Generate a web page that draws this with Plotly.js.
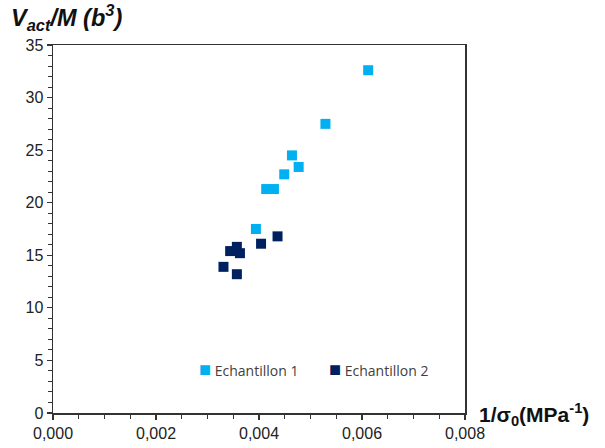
<!DOCTYPE html>
<html>
<head>
<meta charset="utf-8">
<script src="https://cdn.plot.ly/plotly-3.0.1.min.js"></script>
<style>html,body{margin:0;padding:0;background:#fff;}</style>
</head>
<body>
<div id="chart" style="width:605px;height:448px;"></div>
<script>
const seriesNames = ["Echantillon 1", "Echantillon 2"];
const seriesColors = ["#00B0F0", "#002060"];
const x1 = [0.00612, 0.00529, 0.00464, 0.00477, 0.00449, 0.00414, 0.00429, 0.00394];
const y1 = [32.6, 27.5, 24.5, 23.4, 22.7, 21.3, 21.3, 17.5];
const x2 = [0.00436, 0.00404, 0.00357, 0.00344, 0.00363, 0.00331, 0.00357];
const y2 = [16.8, 16.1, 15.8, 15.4, 15.2, 13.9, 13.2];
const xTicks = [0, 0.002, 0.004, 0.006, 0.008];
const yTicks = [0, 5, 10, 15, 20, 25, 30, 35];

const traces = [
  {x: x1, y: y1, name: seriesNames[0], type: 'scatter', mode: 'markers', showlegend: false,
   marker: {symbol: 'square', size: 10, color: seriesColors[0]}},
  {x: x2, y: y2, name: seriesNames[1], type: 'scatter', mode: 'markers', showlegend: false,
   marker: {symbol: 'square', size: 10, color: seriesColors[1]}}
];

const axisCommon = {
  showgrid: false, zeroline: false, showline: true, linecolor: '#333', linewidth: 1.5,
  mirror: true, ticks: 'outside', ticklen: 5, tickwidth: 1.2, tickcolor: '#333',
  tickfont: {family: 'Liberation Sans, Arial, sans-serif', size: 16, color: '#222'}
};

const legendFont = {family: 'Open Sans, sans-serif', size: 14, color: '#404040'};
const legendX = [0.349, 0.665];

const annotations = [
  {xref: 'paper', yref: 'paper', x: -0.106, y: 1.025, xanchor: 'left', yanchor: 'bottom',
   showarrow: false, text: '<b><i>V<sub>act</sub>/M (b<sup>3</sup>)</i></b>',
   font: {family: 'Liberation Sans, Arial, sans-serif', size: 23.5, color: '#111'}},
  {xref: 'paper', yref: 'paper', x: 1.03, y: -0.005, xanchor: 'left', yanchor: 'middle',
   showarrow: false, text: '<b>1/σ<sub>0</sub>(MPa<sup>-1</sup>)</b>',
   font: {family: 'Liberation Sans, Arial, sans-serif', size: 21, color: '#111'}}
];
seriesNames.forEach((n, i) => {
  annotations.push({xref: 'paper', yref: 'paper', x: legendX[i], y: 0.12,
    xanchor: 'left', yanchor: 'middle', showarrow: false,
    text: '<span style="color:' + seriesColors[i] + ';font-size:20px">■</span> ' + n,
    font: legendFont});
});

const layout = {
  width: 605, height: 448,
  margin: {l: 53, r: 140, t: 45, b: 35},
  paper_bgcolor: '#fff', plot_bgcolor: '#fff',
  separators: ',.',
  showlegend: false,
  xaxis: Object.assign({}, axisCommon, {
    range: [0, 0.008], tickvals: xTicks, tickformat: '.3f',
    minor: {dtick: 0.0005, ticks: 'outside', ticklen: 4, tickcolor: '#333', tickwidth: 1}
  }),
  yaxis: Object.assign({}, axisCommon, {
    range: [0, 35], tickvals: yTicks,
    minor: {dtick: 1, ticks: 'outside', ticklen: 4, tickcolor: '#333', tickwidth: 1}
  }),
  annotations: annotations
};

Plotly.newPlot('chart', traces, layout, {displayModeBar: false, staticPlot: true});
</script>
</body>
</html>
